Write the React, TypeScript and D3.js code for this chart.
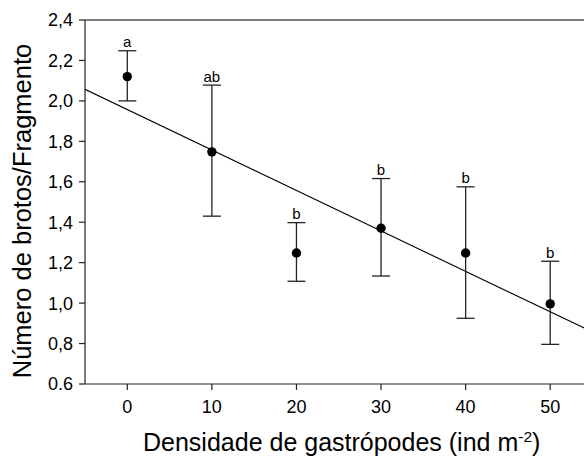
import React from "react";
import * as d3 from "d3";

// Gastropod density treatments (ind m-2)
const densities = [0, 10, 20, 30, 40, 50];
// Mean shoots per fragment and error bar bounds
const means = [2.12, 1.748, 1.248, 1.37, 1.248, 0.996];
const upper = [2.248, 2.078, 1.398, 1.616, 1.575, 1.207];
const lower = [2.0, 1.43, 1.108, 1.134, 0.925, 0.796];
// Post-hoc group letters
const groups = ["a", "ab", "b", "b", "b", "b"];
// Linear fit: y = intercept + slope * x
const fitIntercept = 1.957;
const fitSlope = -0.02;
// Axis ticks
const yTicks = [0.6, 0.8, 1.0, 1.2, 1.4, 1.6, 1.8, 2.0, 2.2, 2.4];
const yTickLabels = ["0.6", "0,8", "1,0", "1,2", "1,4", "1,6", "1,8", "2,0", "2,2", "2,4"];
const xTicks = [0, 10, 20, 30, 40, 50];

const W = 584;
const H = 456;
const left = 85;
const top = 20;
const bottom = 384;
const font = "'Liberation Sans', Arial, sans-serif";

export default function App() {
  const x = d3.scaleLinear().domain([-5, 55]).range([left, 592.5]);
  const y = d3.scaleLinear().domain([0.6, 2.4]).range([bottom, top]);
  const fitLine = d3
    .line<number>()
    .x((d) => x(d))
    .y((d) => y(fitIntercept + fitSlope * d));
  const capHalf = 9;

  return (
    <svg
      width={W}
      height={H}
      style={{ position: "absolute", left: 0, top: 0, background: "#fff" }}
      fontFamily={font}
    >
      <defs>
        <clipPath id="plotClip">
          <rect x={left} y={top} width={W - left} height={bottom - top} />
        </clipPath>
      </defs>

      {/* frame: top, left and bottom lines */}
      <line x1={left} x2={W} y1={top} y2={top} stroke="#000" strokeWidth={1.2} />
      <line x1={left} x2={left} y1={top} y2={bottom} stroke="#222" strokeWidth={1.2} />
      <line x1={left} x2={W} y1={bottom} y2={bottom} stroke="#222" strokeWidth={1.2} />

      {/* y ticks */}
      {yTicks.map((t, i) => (
        <g key={"y" + i}>
          <line x1={left - 6} x2={left} y1={y(t)} y2={y(t)} stroke="#222" strokeWidth={1.2} />
          <text x={73} y={y(t)} dy="0.36em" textAnchor="end" fontSize={18} fill="#000">
            {yTickLabels[i]}
          </text>
        </g>
      ))}

      {/* x ticks */}
      {xTicks.map((t, i) => (
        <g key={"x" + i}>
          <line x1={x(t)} x2={x(t)} y1={bottom} y2={bottom + 6} stroke="#222" strokeWidth={1.2} />
          <text x={x(t)} y={413} textAnchor="middle" fontSize={18} fill="#000">
            {t}
          </text>
        </g>
      ))}

      {/* regression line */}
      <path
        d={fitLine([-5, 55]) || ""}
        fill="none"
        stroke="#000"
        strokeWidth={1.1}
        clipPath="url(#plotClip)"
      />

      {/* error bars, means and group letters */}
      {densities.map((dv, i) => {
        const cx = x(dv);
        return (
          <g key={"p" + i}>
            <line x1={cx} x2={cx} y1={y(upper[i])} y2={y(lower[i])} stroke="#222" strokeWidth={1.3} />
            <line x1={cx - capHalf} x2={cx + capHalf} y1={y(upper[i])} y2={y(upper[i])} stroke="#222" strokeWidth={1.3} />
            <line x1={cx - capHalf} x2={cx + capHalf} y1={y(lower[i])} y2={y(lower[i])} stroke="#222" strokeWidth={1.3} />
            <circle cx={cx} cy={y(means[i])} r={4.7} fill="#000" />
            <text x={cx} y={y(upper[i]) - 3.5} textAnchor="middle" fontSize={15} fill="#000">
              {groups[i]}
            </text>
          </g>
        );
      })}

      {/* axis titles */}
      <text
        transform="translate(31, 211) rotate(-90)"
        textAnchor="middle"
        fontSize={25.5}
        fill="#000"
      >
        Número de brotos/Fragmento
      </text>
      <text x={143} y={451} fontSize={25} fill="#000">
        Densidade de gastrópodes (ind m
        <tspan dy={-9} fontSize={15.5}>-2</tspan>
        <tspan dy={9}>)</tspan>
      </text>
    </svg>
  );
}
